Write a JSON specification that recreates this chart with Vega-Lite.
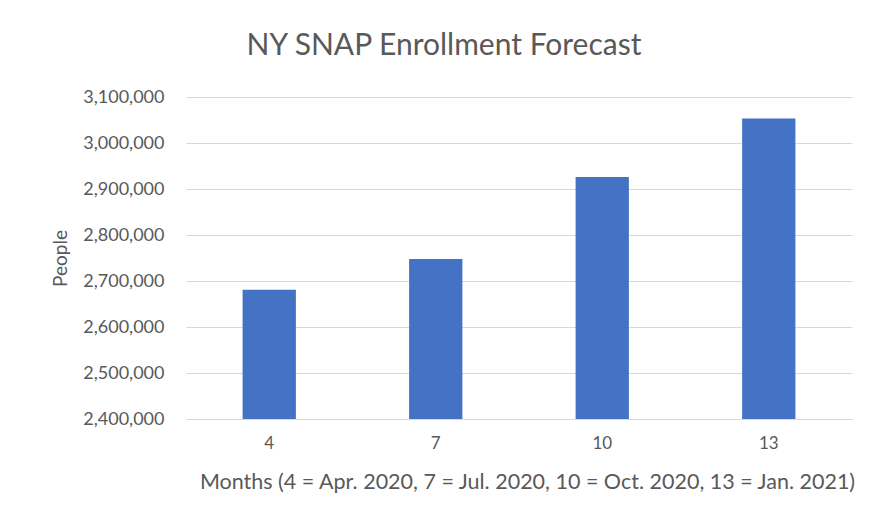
{
  "$schema": "https://vega.github.io/schema/vega-lite/v6.json",
  "width": 666,
  "height": 322,
  "autosize": {"type": "none"},
  "padding": {"left": 186, "top": 97, "right": 25, "bottom": 102},
  "background": "#ffffff",
  "data": {"values": [
    {"month": "4", "people": 2681000},
    {"month": "7", "people": 2748000},
    {"month": "10", "people": 2926000},
    {"month": "13", "people": 3053000}
  ]},
  "title": {
    "text": "NY SNAP Enrollment Forecast",
    "font": "Lato",
    "fontSize": 30,
    "fontWeight": "normal",
    "color": "#595959",
    "anchor": "middle",
    "dx": -75,
    "offset": 27
  },
  "mark": {"type": "bar", "color": "#4472C4", "clip": true},
  "encoding": {
    "x": {
      "field": "month",
      "type": "ordinal",
      "sort": null,
      "scale": {"paddingInner": 0.68, "paddingOuter": 0.34},
      "axis": {
        "title": "Months (4 = Apr. 2020, 7 = Jul. 2020, 10 = Oct. 2020, 13 = Jan. 2021)",
        "titleFont": "Lato",
        "titleFontSize": 21.5,
        "titleFontWeight": "normal",
        "titleColor": "#595959",
        "titlePadding": 20,
        "titleX": 341,
        "labelFont": "Lato",
        "labelFontSize": 17,
        "labelColor": "#595959",
        "labelAngle": 0,
        "labelPadding": 16,
        "ticks": false,
        "domain": true,
        "domainColor": "#d9d9d9"
      }
    },
    "y": {
      "field": "people",
      "type": "quantitative",
      "scale": {"domain": [2400000, 3100000], "zero": false, "nice": false},
      "axis": {
        "title": "People",
        "titleFont": "Lato",
        "titleFontSize": 19,
        "titleFontWeight": "normal",
        "titleColor": "#595959",
        "titlePadding": 12,
        "labelFont": "Lato",
        "labelFontSize": 18,
        "labelColor": "#595959",
        "labelPadding": 22,
        "values": [2400000, 2500000, 2600000, 2700000, 2800000, 2900000, 3000000, 3100000],
        "format": ",d",
        "ticks": false,
        "domain": false,
        "grid": true,
        "gridColor": "#d9d9d9"
      }
    }
  },
  "config": {"view": {"stroke": null}}
}
